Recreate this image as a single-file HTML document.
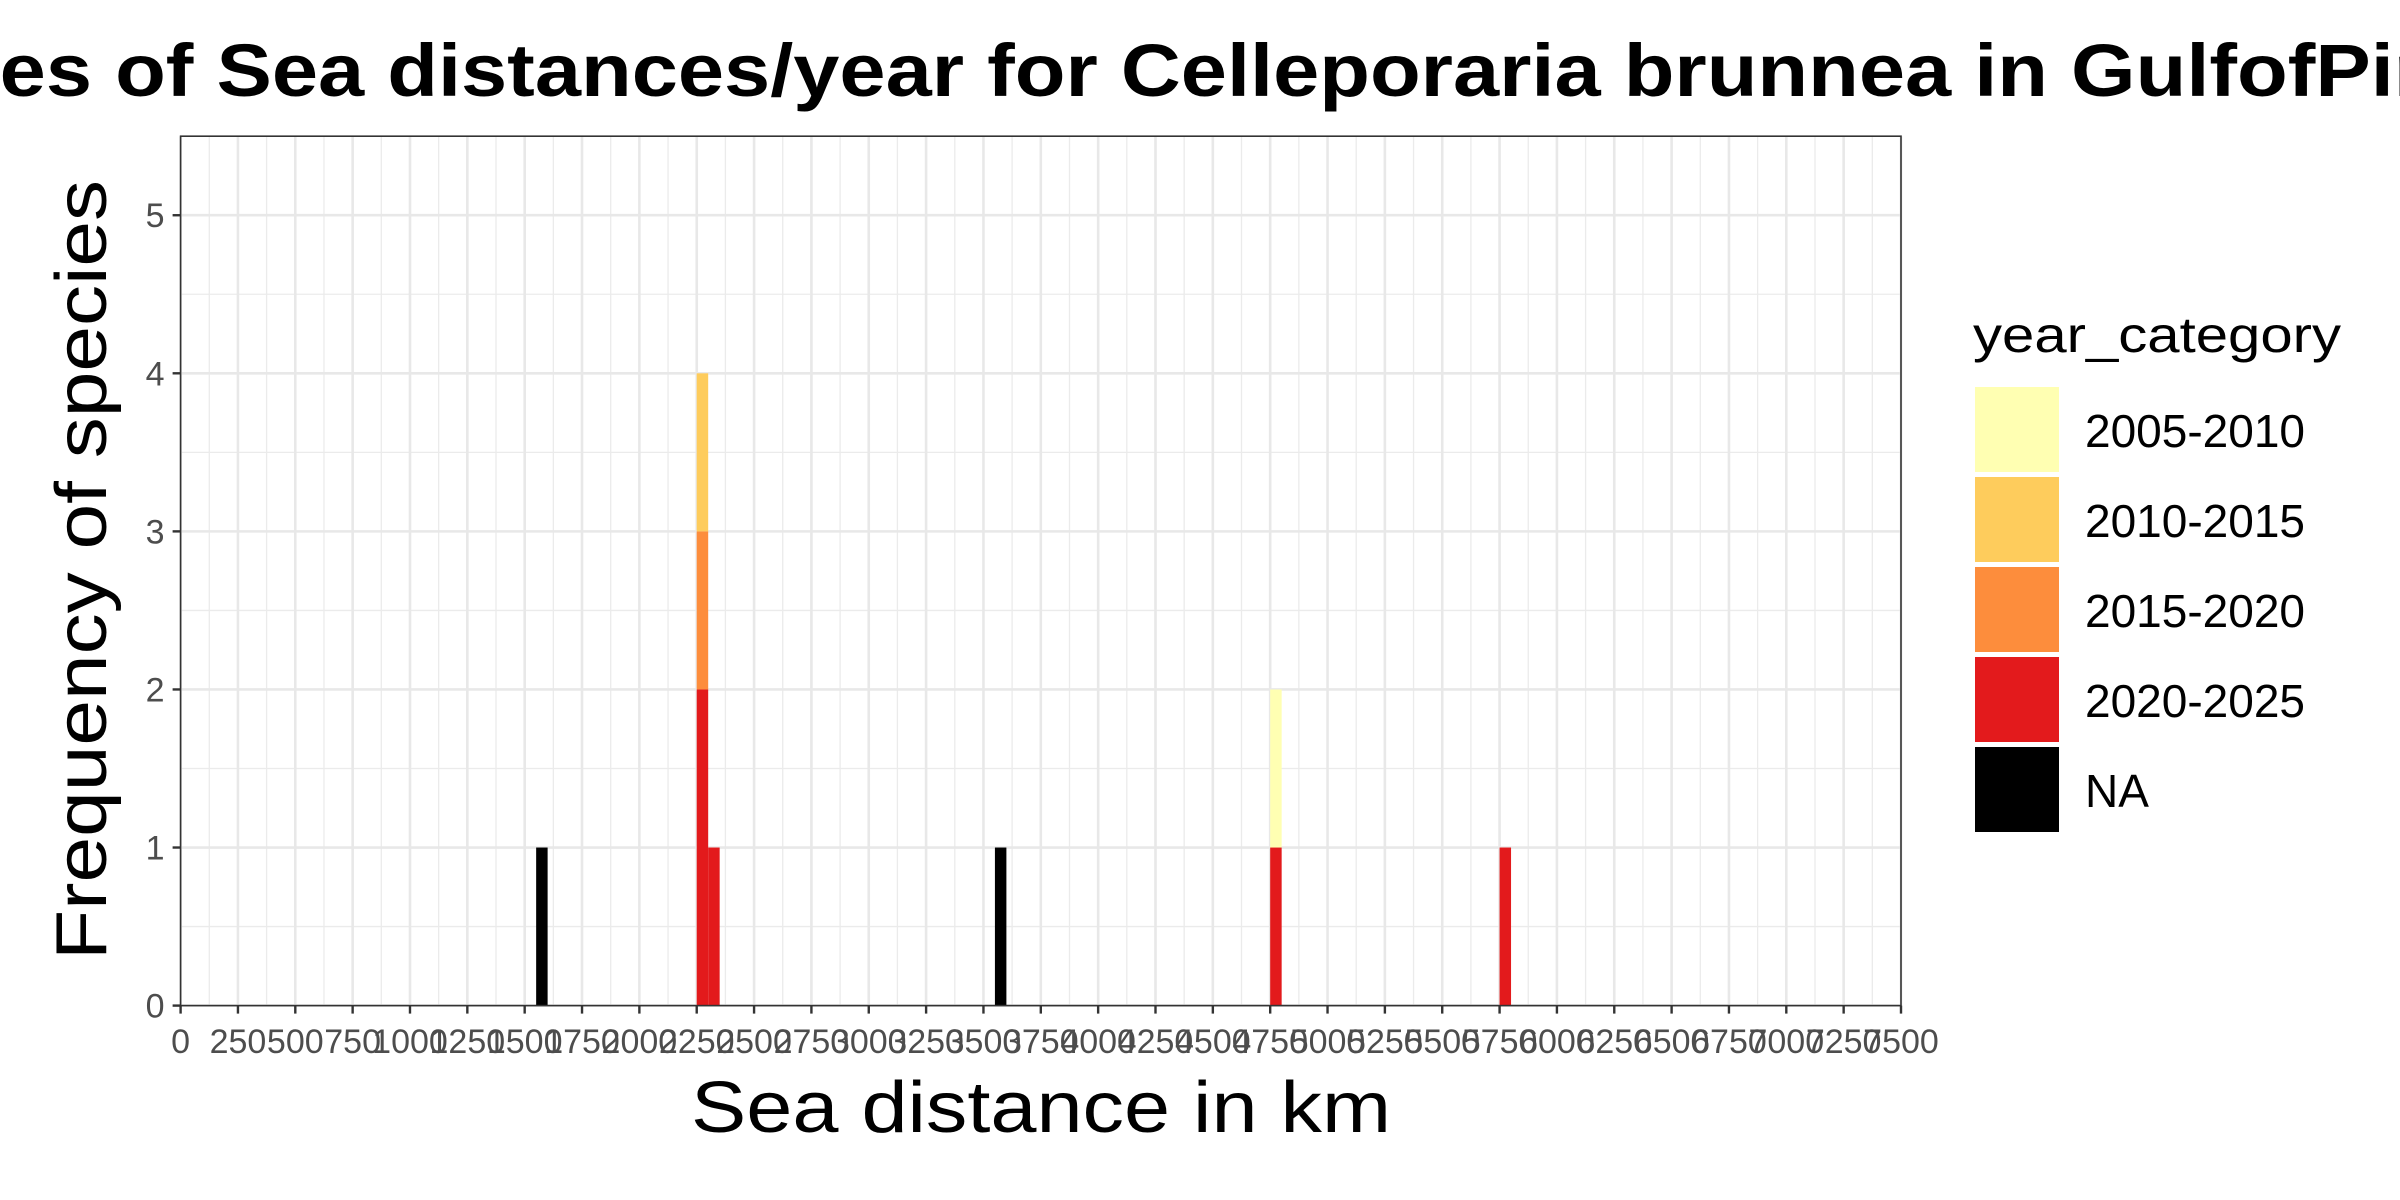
<!DOCTYPE html>
<html><head><meta charset="utf-8"><style>
html,body{margin:0;padding:0;background:#fff;}
svg{display:block;font-family:"Liberation Sans","DejaVu Sans",sans-serif;}
</style></head><body>
<svg id="chart" width="2400" height="1200" viewBox="0 0 2400 1200">
<rect width="2400" height="1200" fill="#fff"/>
<text x="1063" y="96" text-anchor="middle" font-size="74" font-weight="bold" textLength="2920" lengthAdjust="spacingAndGlyphs">Frequencies of Sea distances/year for Celleporaria brunnea in GulfofPiran</text>
<g id="grid"></g>
<g id="bars"></g>
<rect x="180.6" y="136.2" width="1720.4" height="869.4" fill="none" stroke="#333" stroke-width="1.6"/>
<g id="axes"></g>
<text x="1041" y="1132" text-anchor="middle" font-size="72" textLength="700" lengthAdjust="spacingAndGlyphs">Sea distance in km</text>
<text transform="translate(106,570) rotate(-90)" text-anchor="middle" font-size="72" textLength="780" lengthAdjust="spacingAndGlyphs">Frequency of species</text>
<g id="legend">
<text x="1973" y="352" font-size="50" textLength="368" lengthAdjust="spacingAndGlyphs">year_category</text>
</g>
</svg>
<script>
const binStarts = [1550, 2250, 2300, 3550, 4750, 5750];
const binWidth = 50;
const countsNA = [1, 0, 0, 1, 0, 0];
const counts2020 = [0, 2, 1, 0, 1, 1];
const counts2015 = [0, 1, 0, 0, 0, 0];
const counts2010 = [0, 1, 0, 0, 0, 0];
const counts2005 = [0, 0, 0, 0, 1, 0];
const categories = ["2005-2010", "2010-2015", "2015-2020", "2020-2025", "NA"];
const xTicks = [0,250,500,750,1000,1250,1500,1750,2000,2250,2500,2750,3000,3250,3500,3750,4000,4250,4500,4750,5000,5250,5500,5750,6000,6250,6500,6750,7000,7250,7500];
const yTicks = [0, 1, 2, 3, 4, 5];

const NS = "http://www.w3.org/2000/svg";
const L = 180.6, R = 1901, T = 136.2, B = 1005.6;
const xMin = 0, xMax = 7500, yMin = 0, yMax = 5.5;
function xs(v){ return L + (v - xMin) / (xMax - xMin) * (R - L); }
function ys(v){ return B - (v - yMin) / (yMax - yMin) * (B - T); }
function mk(tag, attrs, parent){ const e = document.createElementNS(NS, tag); for (const k in attrs) e.setAttribute(k, attrs[k]); parent.appendChild(e); return e; }
const colors = {"2005-2010":"#FFFFB2","2010-2015":"#FECC5C","2015-2020":"#FD8D3C","2020-2025":"#E31A1C","NA":"#000000"};

const grid = document.getElementById('grid');
mk('rect', {x:L, y:T, width:R-L, height:B-T, fill:'#fff'}, grid);
for (let i = 0; i < xTicks.length - 1; i++) {
  const mv = (xTicks[i] + xTicks[i+1]) / 2;
  const g = mk('line', {x1:xs(mv), x2:xs(mv), y1:T, y2:B, stroke:'#ebebeb', 'stroke-width':1.3}, grid);
  
  
}
for (let i = 0; i < yTicks.length; i++) {
  const mv = yTicks[i] + 0.5;
  if (mv > yMax) continue;
  const g = mk('line', {x1:L, x2:R, y1:ys(mv), y2:ys(mv), stroke:'#ebebeb', 'stroke-width':1.3}, grid);
  
  
}
xTicks.forEach(v => {
  const g = mk('line', {x1:xs(v), x2:xs(v), y1:T, y2:B, stroke:'#e8e8e8', 'stroke-width':2.6}, grid);
  
  
});
yTicks.forEach(v => {
  const g = mk('line', {x1:L, x2:R, y1:ys(v), y2:ys(v), stroke:'#e8e8e8', 'stroke-width':2.6}, grid);
  
  
});

const bars = document.getElementById('bars');
const stack = [["NA", countsNA], ["2020-2025", counts2020], ["2015-2020", counts2015], ["2010-2015", counts2010], ["2005-2010", counts2005]];
binStarts.forEach((s, i) => {
  let base = 0;
  stack.forEach(([cat, arr]) => {
    const c = arr[i];
    if (c > 0) {
      const r = mk('rect', {x:xs(s), width:xs(s + binWidth) - xs(s), y:ys(base + c), height:ys(base) - ys(base + c), fill:colors[cat]}, bars);
      
      
      base += c;
    }
  });
});

const axes = document.getElementById('axes');
xTicks.forEach(v => {
  const t = mk('line', {x1:xs(v), x2:xs(v), y1:B, y2:B + 8, stroke:'#333', 'stroke-width':2.4}, axes);
  
  
  const lb = mk('text', {x:xs(v), y:1053, 'text-anchor':'middle', 'font-size':34, fill:'#4d4d4d'}, axes);
  lb.textContent = String(v);
  
  
});
yTicks.forEach(v => {
  const t = mk('line', {x1:L - 8, x2:L, y1:ys(v), y2:ys(v), stroke:'#333', 'stroke-width':2.4}, axes);
  
  
  const lb = mk('text', {x:L - 16, y:ys(v) + 12, 'text-anchor':'end', 'font-size':34, fill:'#4d4d4d'}, axes);
  lb.textContent = String(v);
  
  
});

const legend = document.getElementById('legend');
categories.forEach((cat, i) => {
  const top = 387 + i * 90;
  const k = mk('rect', {x:1975, y:top, width:84, height:85, fill:colors[cat]}, legend);
  
  
  const tx = mk('text', {x:2085, y:top + 60, 'font-size':46}, legend);
  tx.textContent = cat;
  
  
});
</script>
</body></html>
